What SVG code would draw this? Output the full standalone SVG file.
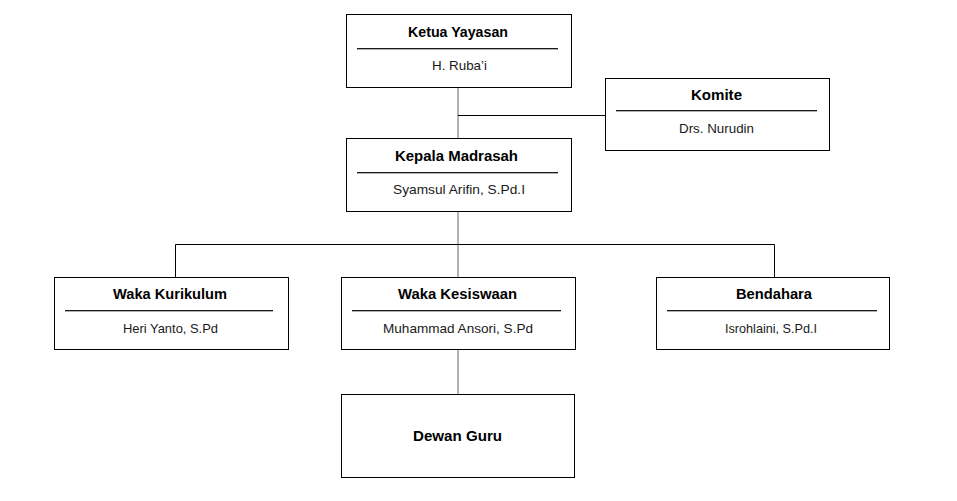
<svg xmlns="http://www.w3.org/2000/svg" width="957" height="501" viewBox="0 0 957 501">
  <style>
    .box { fill: #ffffff; stroke: #000000; stroke-width: 1; }
    .div { stroke: #1a1a1a; stroke-width: 1; }
    .div2 { stroke: #b0b0b0; stroke-width: 1; }
    .title { font-family: "Liberation Sans", Arial, sans-serif; font-weight: bold; font-size: 14px; fill: #000000; text-anchor: middle; }
    .sub { font-family: "Liberation Sans", Arial, sans-serif; font-size: 13px; fill: #1a1a1a; text-anchor: middle; }
    .conn { stroke: #000000; stroke-width: 1; fill: none; }
    .mid { stroke: #666666; }
  </style>
  <rect x="0" y="0" width="957" height="501" fill="#ffffff"/>
  <g id="connectors">
    <line class="conn mid" x1="458" y1="87" x2="458" y2="138"/>
    <line class="conn" x1="458" y1="115.5" x2="605" y2="115.5"/>
    <line class="conn mid" x1="458" y1="211" x2="458" y2="277"/>
    <polyline class="conn" points="175.5,277 175.5,244.5 774.5,244.5 774.5,277"/>
    <line class="conn mid" x1="458" y1="349" x2="458" y2="394"/>
  </g>
  <g id="ketua-yayasan">
    <rect class="box" x="346.5" y="14.5" width="225" height="73"/>
    <text class="title" x="458" y="37" textLength="100" lengthAdjust="spacingAndGlyphs">Ketua Yayasan</text>
    <line class="div2" x1="357" y1="49.5" x2="558" y2="49.5"/>
    <line class="div" x1="357" y1="48.5" x2="558" y2="48.5"/>
    <text class="sub" x="459.5" y="70" textLength="55" lengthAdjust="spacingAndGlyphs">H. Ruba’i</text>
  </g>
  <g id="komite">
    <rect class="box" x="605.5" y="78.5" width="224" height="72"/>
    <text class="title" x="716.5" y="99.5" textLength="51" lengthAdjust="spacingAndGlyphs">Komite</text>
    <line class="div2" x1="616" y1="111.5" x2="817" y2="111.5"/>
    <line class="div" x1="616" y1="110.5" x2="817" y2="110.5"/>
    <text class="sub" x="716.5" y="133" textLength="75" lengthAdjust="spacingAndGlyphs">Drs. Nurudin</text>
  </g>
  <g id="kepala-madrasah">
    <rect class="box" x="346.5" y="138.5" width="225" height="73"/>
    <text class="title" x="456.5" y="160.5" textLength="123" lengthAdjust="spacingAndGlyphs">Kepala Madrasah</text>
    <line class="div2" x1="357" y1="173.5" x2="558" y2="173.5"/>
    <line class="div" x1="357" y1="172.5" x2="558" y2="172.5"/>
    <text class="sub" x="459" y="193.5" textLength="132" lengthAdjust="spacingAndGlyphs">Syamsul Arifin, S.Pd.I</text>
  </g>
  <g id="waka-kurikulum">
    <rect class="box" x="54.5" y="277.5" width="234" height="72"/>
    <text class="title" x="170" y="298.5" textLength="114" lengthAdjust="spacingAndGlyphs">Waka Kurikulum</text>
    <line class="div2" x1="65" y1="311.5" x2="273" y2="311.5"/>
    <line class="div" x1="65" y1="310.5" x2="273" y2="310.5"/>
    <text class="sub" x="170.5" y="333" textLength="95" lengthAdjust="spacingAndGlyphs">Heri Yanto, S.Pd</text>
  </g>
  <g id="waka-kesiswaan">
    <rect class="box" x="341.5" y="277.5" width="234" height="72"/>
    <text class="title" x="457.5" y="298.5" textLength="119" lengthAdjust="spacingAndGlyphs">Waka Kesiswaan</text>
    <line class="div2" x1="352" y1="311.5" x2="561" y2="311.5"/>
    <line class="div" x1="352" y1="310.5" x2="561" y2="310.5"/>
    <text class="sub" x="458" y="333" textLength="150" lengthAdjust="spacingAndGlyphs">Muhammad Ansori, S.Pd</text>
  </g>
  <g id="bendahara">
    <rect class="box" x="656.5" y="277.5" width="233" height="72"/>
    <text class="title" x="774" y="298.5" textLength="76" lengthAdjust="spacingAndGlyphs">Bendahara</text>
    <line class="div2" x1="667" y1="311.5" x2="877" y2="311.5"/>
    <line class="div" x1="667" y1="310.5" x2="877" y2="310.5"/>
    <text class="sub" x="771" y="333" textLength="92" lengthAdjust="spacingAndGlyphs">Isrohlaini, S.Pd.I</text>
  </g>
  <g id="dewan-guru">
    <rect class="box" x="341.5" y="394.5" width="233" height="83"/>
    <text class="title" x="457.5" y="440.5" textLength="89" lengthAdjust="spacingAndGlyphs">Dewan Guru</text>
  </g>
</svg>
